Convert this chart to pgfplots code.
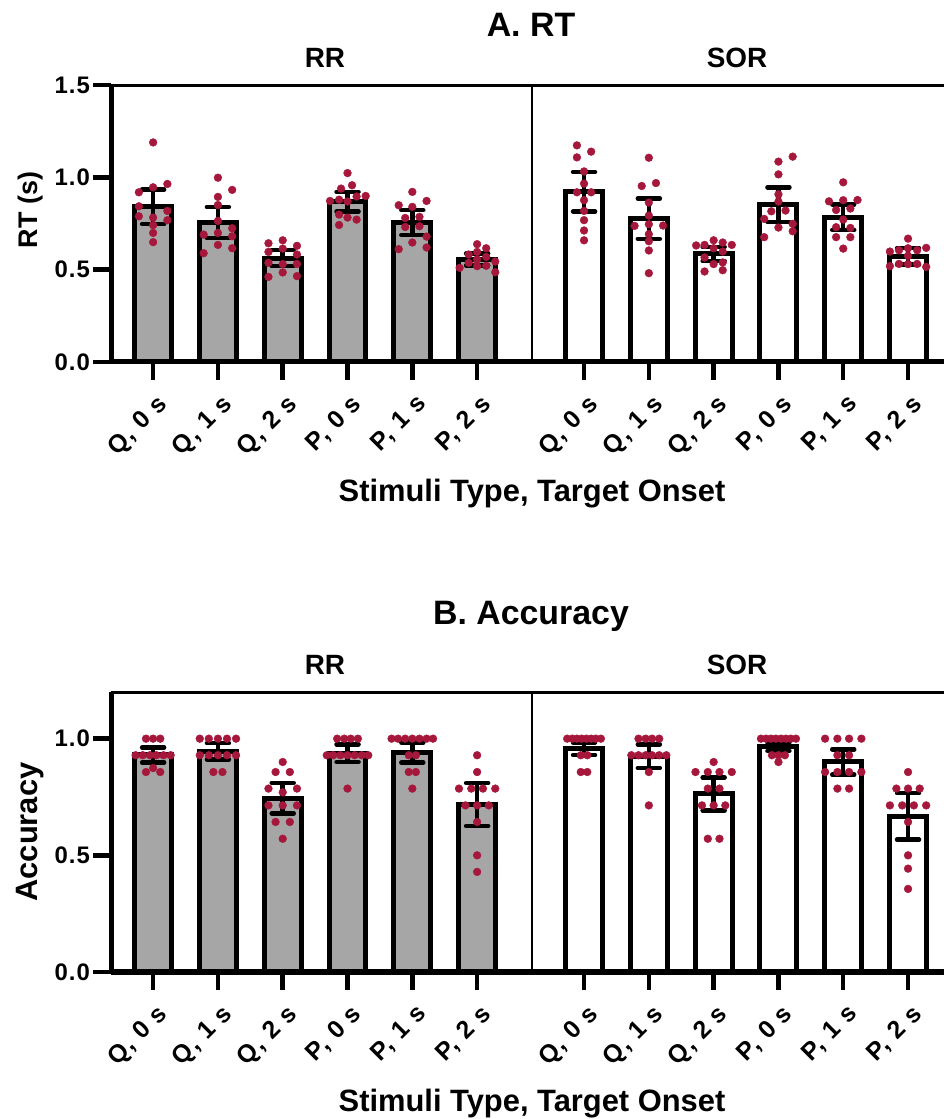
\documentclass[border=0pt]{standalone}
\usepackage{fontspec}
\setmainfont{Liberation Sans}
\usepackage{pgfplots}
\pgfplotsset{compat=1.18}
\definecolor{dotred}{HTML}{A6173C}
\definecolor{barfill}{HTML}{A6A6A6}
\pgfplotsset{
  panel/.style={
    scale only axis, width=833bp, anchor=south west,
    xmin=0.35, xmax=13.205, ymin=0,
    axis lines*=left,
    axis line style={line width=5bp, black},
    tick style={line width=4.5bp, black},
    major tick length=18bp, tick align=outside,
    xtick={1,2,3,4,5,6,7.65,8.65,9.65,10.65,11.65,12.65},
    xticklabels={{Q, 0 s},{Q, 1 s},{Q, 2 s},{P, 0 s},{P, 1 s},{P, 2 s},{Q, 0 s},{Q, 1 s},{Q, 2 s},{P, 0 s},{P, 1 s},{P, 2 s}},
    xticklabel style={font=\bfseries\fontsize{25}{27}\selectfont\addfontfeatures{LetterSpace=6},
      rotate=45, anchor=north east, inner sep=0pt, yshift=-11bp, xshift=-7bp},
    yticklabel style={font=\bfseries\fontsize{24}{26}\selectfont\addfontfeatures{LetterSpace=4},
      inner sep=0pt, xshift=-3bp},
    /pgf/number format/assume math mode=true,
    y tick label style={/pgf/number format/fixed, /pgf/number format/fixed zerofill, /pgf/number format/precision=1},
  },
  bars/.style={ybar, bar width=0.57, bar shift=0pt, draw=black, line width=5bp,
    error bars/y dir=both, error bars/y explicit,
    error bars/error mark=|,
    error bars/error bar style={line width=4.5bp, black},
    error bars/error mark options={line width=4.5bp, mark size=11bp, black, line cap=round}},
  dots/.style={only marks, mark=*, mark size=3.9bp, color=dotred, mark options={draw=none, fill=dotred}},
}
\begin{document}
\begin{tikzpicture}
\useasboundingbox (0,0) rectangle (944bp,1119bp);
% ---------- Panel A ----------
\begin{axis}[panel, at={(111bp,757bp)}, height=277bp, ymax=1.5, ytick={0,0.5,1,1.5}]
\addplot[bars, fill=barfill] coordinates {
 (1,0.84) +- (0,0.093) (2,0.755) +- (0,0.084) (3,0.563) +- (0,0.044)
 (4,0.868) +- (0,0.053) (5,0.755) +- (0,0.067) (6,0.555) +- (0,0.032)};
\addplot[bars, fill=white] coordinates {
 (7.65,0.922) +- (0,0.107) (8.65,0.776) +- (0,0.109) (9.65,0.585) +- (0,0.038)
 (10.65,0.852) +- (0,0.094) (11.65,0.785) +- (0,0.069) (12.65,0.572) +- (0,0.045)};
\addplot[dots] coordinates {
 (1,1.189) (0.78,0.919) (1,0.946) (1.22,0.964) (0.78,0.843) (1.22,0.818) (0.78,0.789) (1,0.782) (1.22,0.768) (1,0.741) (1,0.699) (1,0.649)
 (2,0.998) (2.22,0.932) (2,0.894) (2,0.850) (2,0.764) (2.22,0.724) (1.78,0.690) (2,0.699) (2.22,0.681) (2,0.634) (2.22,0.616) (1.78,0.589)
 (3,0.659) (2.78,0.643) (3.22,0.629) (3,0.614) (2.78,0.596) (3.22,0.582) (2.78,0.537) (3.22,0.531) (3,0.530) (3,0.485) (3.22,0.465) (2.78,0.461)
 (4,1.023) (4.07,0.957) (3.9,0.939) (4.28,0.899) (4.14,0.896) (3.87,0.879) (3.73,0.872) (4,0.869) (3.87,0.798) (4,0.782) (4.14,0.771) (3.87,0.742)
 (5,0.921) (5.22,0.872) (4.79,0.849) (5,0.840) (5.11,0.786) (4.89,0.780) (5.11,0.735) (4.89,0.731) (5.22,0.679) (5,0.647) (5.22,0.620) (4.79,0.611)
 (6,0.638) (6.14,0.616) (6,0.596) (5.87,0.582) (6.14,0.569) (6,0.555) (6.28,0.544) (5.87,0.537) (6.14,0.521) (6,0.519) (5.73,0.510) (6.28,0.486)
 (7.54,1.173) (7.76,1.139) (7.54,1.108) (7.65,1.032) (7.65,0.966) (7.54,0.919) (7.76,0.919) (7.65,0.876) (7.65,0.818) (7.65,0.768) (7.65,0.712) (7.65,0.659)
 (8.65,1.106) (8.76,0.969) (8.54,0.953) (8.65,0.863) (8.65,0.793) (8.65,0.746) (8.87,0.739) (8.43,0.737) (8.65,0.692) (8.65,0.654) (8.65,0.604) (8.65,0.481)
 (9.65,0.659) (9.79,0.647) (9.51,0.634) (9.93,0.634) (9.38,0.631) (9.65,0.616) (9.79,0.598) (9.51,0.566) (9.79,0.539) (9.65,0.530) (9.79,0.497) (9.51,0.490)
 (10.87,1.112) (10.65,1.085) (10.65,1.016) (10.65,0.908) (10.65,0.869) (10.76,0.820) (10.54,0.816) (10.43,0.775) (10.87,0.748) (10.65,0.728) (10.87,0.708) (10.43,0.676)
 (11.65,0.973) (11.87,0.877) (11.65,0.876) (11.43,0.870) (11.76,0.831) (11.54,0.823) (11.65,0.771) (11.54,0.730) (11.76,0.726) (11.54,0.676) (11.76,0.676) (11.65,0.614)
 (12.65,0.668) (12.93,0.618) (12.65,0.616) (12.51,0.605) (12.79,0.605) (12.37,0.598) (12.65,0.575) (12.51,0.531) (12.79,0.531) (12.65,0.530) (12.37,0.519) (12.93,0.515)};
\draw[line width=5bp] (rel axis cs:0,1) -- (rel axis cs:1,1);
\draw[line width=2bp] (axis cs:6.85,0) -- (axis cs:6.85,1.5);
\end{axis}
% ---------- Panel B ----------
\begin{axis}[panel, at={(111bp,147bp)}, height=280bp, ymax=1.2, ytick={0,0.5,1}]
\addplot[bars, fill=barfill] coordinates {
 (1,0.93) +- (0,0.032) (2,0.946) +- (0,0.035) (3,0.745) +- (0,0.065)
 (4,0.938) +- (0,0.038) (5,0.94) +- (0,0.043) (6,0.718) +- (0,0.092)};
\addplot[bars, fill=white] coordinates {
 (7.65,0.957) +- (0,0.027) (8.65,0.925) +- (0,0.051) (9.65,0.763) +- (0,0.071)
 (10.65,0.966) +- (0,0.018) (11.65,0.9) +- (0,0.054) (12.65,0.667) +- (0,0.1)};
\addplot[dots] coordinates {
 (0.89,1) (1,1) (1.11,1) (0.73,0.929) (0.84,0.929) (0.95,0.929) (1.05,0.929) (1.16,0.929) (1.27,0.929) (0.89,0.857) (1,0.874) (1.11,0.857)
 (1.72,1) (1.86,1) (2,1) (2.14,1) (2.28,1) (1.72,0.929) (1.86,0.929) (2,0.929) (2.14,0.929) (2.28,0.929) (1.93,0.857) (2.07,0.857)
 (3,0.9) (2.89,0.857) (3.11,0.857) (2.78,0.786) (3,0.77) (3.22,0.786) (2.78,0.714) (3,0.714) (3.22,0.714) (2.89,0.643) (3.11,0.643) (3,0.571)
 (3.84,1) (3.95,1) (4.05,1) (4.16,1) (3.68,0.929) (3.78,0.929) (3.89,0.929) (4,0.929) (4.11,0.929) (4.22,0.929) (4.32,0.929) (4,0.786)
 (4.68,1) (4.78,1) (4.89,1) (5,1) (5.11,1) (5.22,1) (5.32,1) (4.945,0.929) (5.055,0.929) (4.945,0.857) (5.055,0.857) (5,0.786)
 (6,0.929) (6,0.857) (5.72,0.786) (5.91,0.786) (6.09,0.786) (6.28,0.786) (5.82,0.714) (6,0.714) (6.18,0.714) (6,0.643) (6,0.5) (6,0.429)
 (7.39,1) (7.47,1) (7.54,1) (7.613,1) (7.687,1) (7.76,1) (7.83,1) (7.91,1) (7.6,0.929) (7.7,0.929) (7.6,0.857) (7.7,0.857)
 (8.49,1) (8.6,1) (8.7,1) (8.81,1) (8.38,0.929) (8.49,0.929) (8.6,0.929) (8.7,0.929) (8.81,0.929) (8.92,0.929) (8.65,0.857) (8.65,0.714)
 (9.65,0.9) (9.37,0.857) (9.56,0.857) (9.74,0.857) (9.93,0.857) (9.56,0.786) (9.74,0.786) (9.47,0.714) (9.65,0.714) (9.83,0.714) (9.56,0.571) (9.74,0.571)
 (10.38,1) (10.46,1) (10.535,1) (10.61,1) (10.69,1) (10.765,1) (10.84,1) (10.92,1) (10.55,0.929) (10.65,0.929) (10.75,0.929) (10.65,0.9)
 (11.37,1) (11.56,1) (11.74,1) (11.93,1) (11.56,0.929) (11.74,0.929) (11.37,0.857) (11.56,0.857) (11.74,0.857) (11.93,0.857) (11.56,0.786) (11.74,0.786)
 (12.65,0.857) (12.47,0.786) (12.65,0.786) (12.83,0.786) (12.37,0.714) (12.56,0.714) (12.74,0.714) (12.93,0.714) (12.65,0.643) (12.65,0.5) (12.65,0.443) (12.65,0.356)};
\draw[line width=5bp] (rel axis cs:0,1) -- (rel axis cs:1,1);
\draw[line width=2bp] (axis cs:6.85,0) -- (axis cs:6.85,1.2);
\end{axis}
% ---------- Texts ----------
\node[anchor=base, font=\bfseries\fontsize{34}{38}\selectfont] at (531bp,1082bp) {A. RT};
\node[anchor=base, font=\bfseries\fontsize{28}{32}\selectfont] at (325bp,1051bp) {RR};
\node[anchor=base, font=\bfseries\fontsize{28}{32}\selectfont] at (737bp,1051bp) {SOR};
\node[anchor=base, font=\bfseries\fontsize{27}{30}\selectfont, rotate=90] at (37bp,909bp) {RT (s)};
\node[anchor=base, font=\bfseries\fontsize{31}{34}\selectfont] at (532bp,617bp) {Stimuli Type, Target Onset};
\node[anchor=base, font=\bfseries\fontsize{34}{38}\selectfont] at (531bp,494bp) {B. Accuracy};
\node[anchor=base, font=\bfseries\fontsize{28}{32}\selectfont] at (325bp,444bp) {RR};
\node[anchor=base, font=\bfseries\fontsize{28}{32}\selectfont] at (737bp,444bp) {SOR};
\node[anchor=base, font=\bfseries\fontsize{31}{34}\selectfont, rotate=90] at (37bp,287bp) {Accuracy};
\node[anchor=base, font=\bfseries\fontsize{31}{34}\selectfont] at (532bp,8bp) {Stimuli Type, Target Onset};
\end{tikzpicture}
\end{document}
